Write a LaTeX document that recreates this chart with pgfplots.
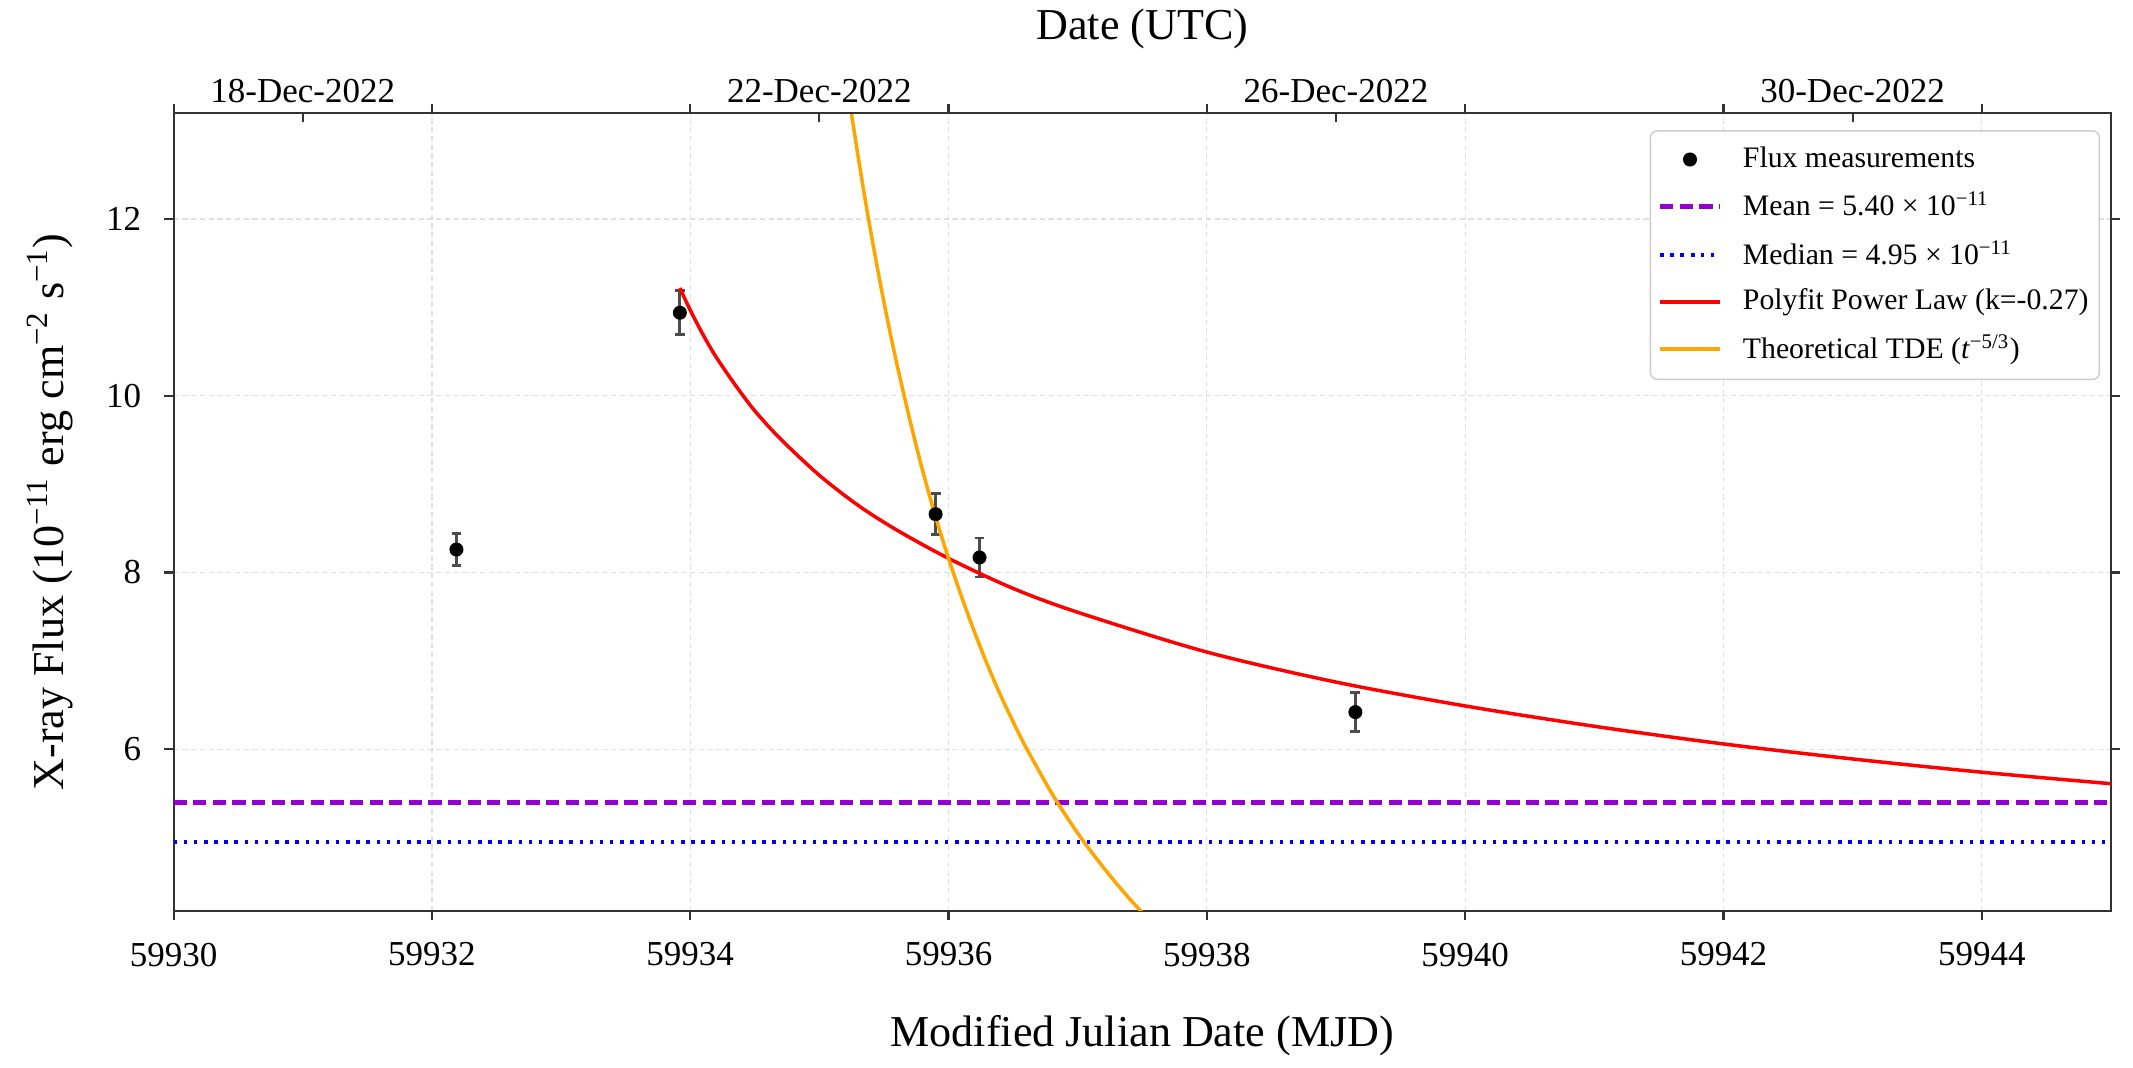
\documentclass[border=0pt]{standalone}
\usepackage{fontspec}
\setmainfont{Liberation Serif}
\usepackage{pgfplots}
\pgfplotsset{compat=1.18}
\definecolor{meancol}{HTML}{9400D3}
\definecolor{orangec}{HTML}{FFA500}
\definecolor{spine}{HTML}{333333}
% x values are days after MJD 59930 (tick labels show the MJD)
\begin{document}
\begin{tikzpicture}
\begin{axis}[
  name=main,
  scale only axis, width=553.6pt, height=228pt,
  xmin=0, xmax=15, ymin=4.17, ymax=13.2,
  xtick={0,2,4,6,8,10,12,14},
  xticklabels={59930,59932,59934,59936,59938,59940,59942,59944},
  ytick={6,8,10,12},
  tick align=outside, xtick pos=both, ytick pos=both,
  xticklabel pos=bottom, yticklabel pos=left,
  major tick length=2.6pt,
  every tick/.append style={spine, line width=0.6pt},
  axis line style={spine, line width=0.6pt},
  grid=major,
  major grid style={black!12, dash pattern=on 1.5pt off 1pt, line width=0.35pt},
  tick label style={font=\fontsize{10}{12}\selectfont},
  /pgf/number format/assume math mode=true,
  xticklabel style={anchor=north, inner sep=0pt, yshift=-6.3pt},
  yticklabel style={anchor=east, inner sep=0pt, xshift=-6.5pt},
  xlabel={Modified Julian Date (MJD)},
  ylabel={X-ray Flux (10\textsuperscript{−11} erg cm\textsuperscript{−2} s\textsuperscript{−1})},
  label style={font=\fontsize{12.6}{15}\selectfont},
  xlabel style={at={(axis description cs:0.5,-0.156)}, anchor=center},
  ylabel style={at={(axis description cs:-0.0638,0.5)}, anchor=center},
  legend cell align=left,
  legend style={at={(axis description cs:0.9944,0.9786)}, anchor=north east,
    draw=black!20, rounded corners=2pt, fill=white,
    font=\fontsize{8.5}{10}\selectfont, row sep=3.6pt, column sep=4.9pt,
    inner xsep=2.1pt, inner ysep=3.5pt, nodes={inner sep=1pt}},
]
\addplot[only marks, mark=*, mark size=1.8pt, black,
  error bars/.cd, y dir=both, y explicit,
  error bar style={black!70, line width=0.8pt},
  error mark options={rotate=90, mark size=1.4pt, black!70, line width=0.8pt}]
  coordinates {
  (2.19,8.26) +- (0,0.18)
  (3.92,10.94) +- (0,0.25)
  (5.90,8.66) +- (0,0.23)
  (6.24,8.17) +- (0,0.22)
  (9.15,6.42) +- (0,0.22)
  };
\addlegendentry{Flux measurements}
\addplot[meancol, line width=1.4pt, dash pattern=on 3.8pt off 1.8pt]
  coordinates {(0,5.40) (15,5.40)};
\addlegendentry{Mean = 5.40 × 10\textsuperscript{−11}}
\addplot[blue, line width=1.1pt, dash pattern=on 1pt off 1.9pt]
  coordinates {(0,4.95) (15,4.95)};
\addlegendentry{Median = 4.95 × 10\textsuperscript{−11}}
\addplot[red, line width=1pt, smooth] coordinates {
  (3.92,11.22) (4.0,10.97) (4.1,10.69) (4.2,10.44) (4.35,10.12) (4.5,9.83)
  (4.7,9.51) (5.0,9.10) (5.3,8.76) (5.6,8.48) (6.0,8.16) (6.5,7.82)
  (7,7.55) (8,7.10) (9,6.76) (10,6.49) (11,6.26) (12,6.06) (13,5.89)
  (14,5.74) (15,5.61)};
\addlegendentry{Polyfit Power Law (k=-0.27)}
\addplot[orangec, line width=1pt, smooth] coordinates {
  (5.20,13.68) (5.25,13.18) (5.30,12.71) (5.35,12.26) (5.40,11.84)
  (5.45,11.44) (5.50,11.06) (5.55,10.70) (5.60,10.36) (5.70,9.73)
  (5.80,9.15) (5.90,8.63) (6.00,8.16) (6.10,7.73) (6.20,7.33) (6.30,6.96)
  (6.40,6.62) (6.50,6.31) (6.60,6.02) (6.80,5.50) (7.00,5.05) (7.20,4.66)
  (7.40,4.31) (7.60,4.00)};
\addlegendentry{Theoretical TDE (\textit{t}\textsuperscript{−5/3})}
\end{axis}
\begin{axis}[
  scale only axis, width=553.6pt, height=228pt,
  xmin=0, xmax=15, ymin=0, ymax=1,
  axis x line*=top, hide y axis,
  xtick={1,5,9,13},
  xticklabels={18-Dec-2022,22-Dec-2022,26-Dec-2022,30-Dec-2022},
  tick align=inside,
  major tick length=2.6pt,
  every tick/.append style={spine, line width=0.6pt},
  axis line style={spine, line width=0.6pt},
  tick label style={font=\fontsize{10}{12}\selectfont},
  xticklabel style={anchor=south, inner sep=0pt, yshift=2.6pt},
  xlabel={Date (UTC)},
  label style={font=\fontsize{12.6}{15}\selectfont},
  xlabel style={at={(axis description cs:0.5,1.106)}, anchor=center},
]
\addplot[draw=none] coordinates {(0,0.5)};
\end{axis}
\pgfresetboundingbox
\path[use as bounding box] ([xshift=-49.6pt,yshift=-44.6pt]main.south west) rectangle ([xshift=6.3pt,yshift=32.3pt]main.north east);
\end{tikzpicture}
\end{document}
